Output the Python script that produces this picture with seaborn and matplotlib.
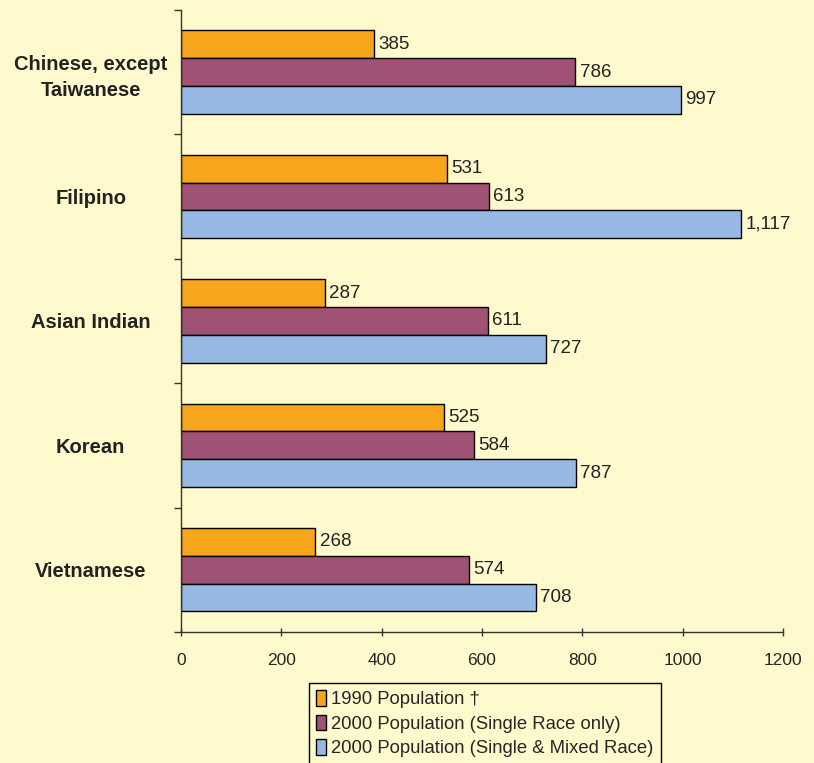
import pandas as pd
import seaborn as sns
import matplotlib.pyplot as plt
from matplotlib.ticker import MultipleLocator, FixedLocator

groups = ["Chinese, except\nTaiwanese", "Filipino", "Asian Indian", "Korean", "Vietnamese"]
series = ["1990 Population \u2020",
          "2000 Population (Single Race only)",
          "2000 Population (Single & Mixed Race)"]
pop_1990 = [385, 531, 287, 525, 268]
pop_2000_single = [786, 613, 611, 584, 574]
pop_2000_mixed = [997, 1117, 727, 787, 708]
colors = ["#F7A51B", "#A05274", "#97B8E2"]
bg = "#FFFACD"

rows = []
for i, g in enumerate(groups):
    for s, vals in zip(series, [pop_1990, pop_2000_single, pop_2000_mixed]):
        rows.append({"group": g, "series": s, "value": vals[i]})
df = pd.DataFrame(rows)

sns.set_style("white")
plt.rcParams['font.family'] = ['Liberation Sans', 'DejaVu Sans']

fig = plt.figure(figsize=(8.14, 7.63), dpi=100, facecolor=bg)
ax = fig.add_axes([0.2224, 0.1717, 0.7396, 0.8153])
ax.set_facecolor(bg)

sns.barplot(data=df, x="value", y="group", hue="series", order=groups,
            hue_order=series, palette=colors, width=0.67, orient="h",
            edgecolor="black", linewidth=1, saturation=1, ax=ax)

for cont in ax.containers:
    ax.bar_label(cont, labels=[f"{int(v):,}" for v in cont.datavalues],
                 padding=3, fontsize=13.5, color="#222222")

ax.set_xlim(0, 1200)
ax.set_ylim(4.5, -0.5)
ax.xaxis.set_major_locator(MultipleLocator(200))
ax.set_xlabel("")
ax.set_ylabel("")
ax.yaxis.set_minor_locator(FixedLocator([-0.5, 0.5, 1.5, 2.5, 3.5, 4.5]))
ax.tick_params(axis="y", which="major", length=0, pad=65, labelsize=14.5)
ax.tick_params(axis="y", which="minor", length=5, width=1, color="#333333", left=True)
ax.tick_params(axis="x", length=6, width=1, direction="inout", color="#333333",
               labelsize=12.5, pad=12, bottom=True)
for lbl in ax.get_yticklabels():
    lbl.set_fontweight("bold")
    lbl.set_horizontalalignment("center")
    lbl.set_color("#222222")
    lbl.set_linespacing(1.45)
for side in ["top", "right"]:
    ax.spines[side].set_visible(False)
for side in ["left", "bottom"]:
    ax.spines[side].set_color("#333333")
    ax.spines[side].set_linewidth(1)

ax.legend(loc="upper center", bbox_to_anchor=(0.505, -0.082), ncol=1,
          frameon=True, fancybox=False, edgecolor="black", facecolor=bg,
          framealpha=1, fontsize=13.3, handlelength=0.5, handleheight=0.9,
          handletextpad=0.3, borderpad=0.4, labelspacing=0.35,
          borderaxespad=0, title=None)

fig.savefig("out.png", dpi=100, facecolor=bg)
